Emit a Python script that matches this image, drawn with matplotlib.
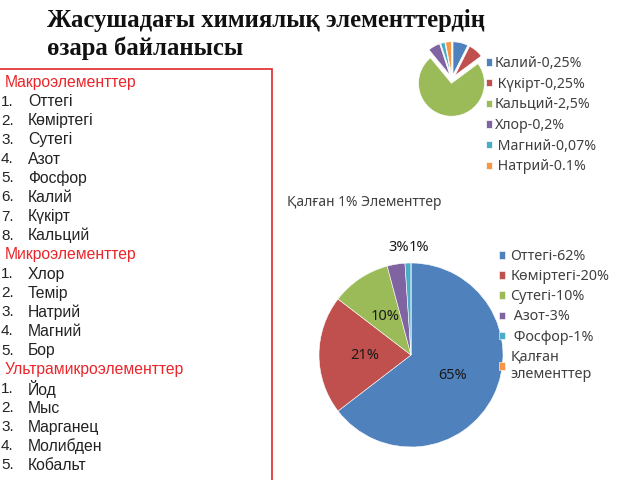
import matplotlib
matplotlib.use('Agg')
import matplotlib.pyplot as plt
import matplotlib.patches as mpatches

W, H = 640, 480

title_lines = ['Жасушадағы химиялық элементтердің', 'өзара байланысы']

group_names = ['Макроэлементтер', 'Микроэлементтер', 'Ультрамикроэлементтер']
macro = ['Оттегі', 'Көміртегі', 'Сутегі', 'Азот', 'Фосфор', 'Калий', 'Күкірт', 'Кальций']
micro = ['Хлор', 'Темір', 'Натрий', 'Магний', 'Бор']
ultra = ['Йод', 'Мыс', 'Марганец', 'Молибден', 'Кобальт']

main_title = 'Қалған 1% Элементтер'
main_labels = ['Оттегі-62%', 'Көміртегі-20%', 'Сутегі-10%', ' Азот-3%', ' Фосфор-1%', 'Қалған\nэлементтер']
main_values = [62, 20, 10, 3, 1, 0]

rest_labels = ['Калий-0,25%', ' Күкірт-0,25%', 'Кальций-2,5%', 'Хлор-0,2%', ' Магний-0,07%', ' Натрий-0.1%']
rest_values = [0.25, 0.25, 2.5, 0.2, 0.07, 0.1]

colors = ['#4F81BD', '#C0504D', '#9BBB59', '#8064A2', '#4BACC6', '#F79646']

sans = ['Liberation Sans', 'DejaVu Sans']
chart_font = ['Noto Sans', 'DejaVu Sans']
serif = ['Liberation Serif', 'DejaVu Serif']


def fx(x):
    return x / W


def fy(y):
    return 1 - y / H


fig = plt.figure(figsize=(6.4, 4.8), dpi=100)

# title
for i, line in enumerate(title_lines):
    fig.text(fx(47), fy(20 + i * 28), line, family=serif, weight='bold',
             fontsize=17.8, va='center', ha='left', color='#111111')

# red frame around the list
frame = mpatches.Rectangle((fx(-2), fy(492)), fx(274), (492 - 69) / H,
                           transform=fig.transFigure, fill=False,
                           edgecolor='#E02828', linewidth=1.2)
fig.patches.append(frame)

# element list
y = 82.5
step = 19.15
for name, items in zip(group_names, [macro, micro, ultra]):
    fig.text(fx(5), fy(y), name, family=sans, fontsize=11.3, color='#E8262B',
             va='center', ha='left')
    y += step
    for k, item in enumerate(items):
        fig.text(fx(1), fy(y), f'{k + 1}.', family=sans, fontsize=11,
                 color='#222222', va='center', ha='left')
        fig.text(fx(28), fy(y), item, family=sans, fontsize=11.3,
                 color='#222222', va='center', ha='left')
        y += step

# main pie
r = 92
cx, cy = 411, 355
ax = fig.add_axes([fx(cx - r), fy(cy + r), 2 * r / W, 2 * r / H])


def pct(p):
    return f'{p:.0f}%' if p > 0.5 else ''


wedges, texts, autotexts = ax.pie(main_values, colors=colors, startangle=90,
                                  counterclock=False, autopct=pct,
                                  pctdistance=0.5,
                                  wedgeprops=dict(edgecolor='white', linewidth=0.4),
                                  textprops=dict(family=chart_font, fontsize=10.5,
                                                 color='#1a1a1a'))
ax.set_xlim(-1, 1)
ax.set_ylim(-1, 1)
ax.set_aspect('auto')
# small slices get their labels above the pie
autotexts[3].set_position((-0.13, 1.17))
autotexts[4].set_position((0.09, 1.17))

fig.text(fx(287), fy(203), main_title, family=chart_font, fontsize=10,
         color='#404040', va='center', ha='left')

leg = fig.legend(wedges, main_labels, loc='upper left',
                 bbox_to_anchor=(fx(499), fy(249)), frameon=False,
                 prop=dict(family=chart_font, size=10.3), labelcolor='#404040',
                 handlelength=0.45, handleheight=0.45, handletextpad=0.35,
                 labelspacing=0.36, borderpad=0, borderaxespad=0)

# small exploded pie
r2 = 33
cx2, cy2 = 452, 79
ax2 = fig.add_axes([fx(cx2 - 1.25 * r2), fy(cy2 + 1.25 * r2), 2.5 * r2 / W, 2.5 * r2 / H])
w2, _ = ax2.pie(rest_values, colors=colors, startangle=90, counterclock=False,
                explode=[0.13] * len(rest_values),
                wedgeprops=dict(edgecolor='white', linewidth=0.5))
ax2.set_xlim(-1.25, 1.25)
ax2.set_ylim(-1.25, 1.25)
ax2.set_aspect('auto')

fig.legend(w2, rest_labels, loc='upper left',
           bbox_to_anchor=(fx(486), fy(56)), frameon=False,
           prop=dict(family=chart_font, size=10.2), labelcolor='#404040',
           handlelength=0.4, handleheight=0.4, handletextpad=0.2,
           labelspacing=0.4, borderpad=0, borderaxespad=0)

fig.savefig('out.png', dpi=100)
